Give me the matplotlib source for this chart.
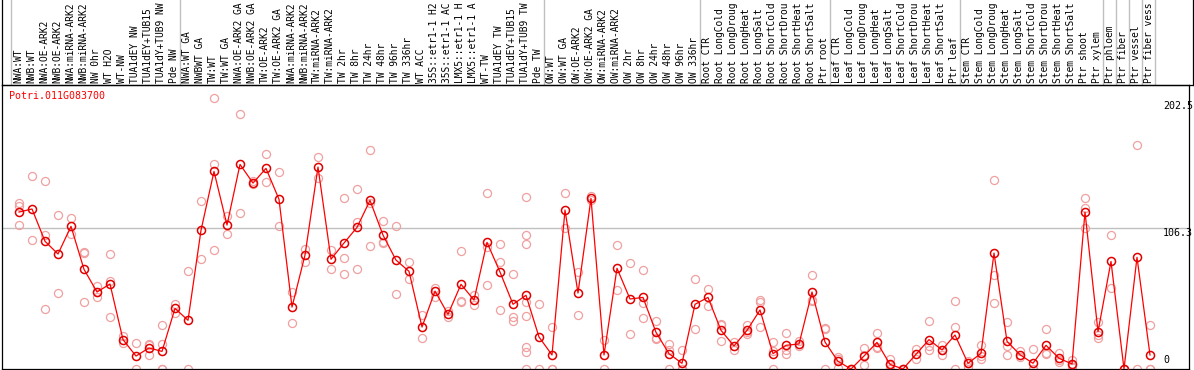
import matplotlib
matplotlib.use("Agg")
import matplotlib.pyplot as plt
from matplotlib.lines import Line2D
from matplotlib.transforms import blended_transform_factory

gene = "Potri.011G083700"

samples = [
    "NWA:WT", "NWB:WT", "NWA:OE-ARK2", "NWB:OE-ARK2", "NWA:miRNA-ARK2", "NWB:miRNA-ARK2",
    "NW 0hr", "WT H2O", "WT-NW", "TUA1dEY NW", "TUA1dEY+TUB15 NW", "TUA1dY+TUB9 NW", "Pde NW",
    "NWA:WT GA", "NWBWT GA", "TW:WT", "TW:WT GA", "NWA:OE-ARK2 GA", "NWB:OE-ARK2 GA",
    "TW:OE-ARK2", "TW:OE-ARK2 GA", "NWA:miRNA-ARK2 GA", "NWB:miRNA-ARK2 GA", "TW:miRNA-ARK2",
    "TW:miRNA-ARK2 GA", "TW 2hr", "TW 8hr", "TW 24hr", "TW 48hr", "TW 96hr", "TW 336hr",
    "WT ACC", "35S::etr1-1 H2O", "35S::etr1-1 ACC", "LMX5::etr1-1 H2O", "LMX5::etr1-1 ACC",
    "WT-TW", "TUA1dEY TW", "TUA1dEY+TUB15 TW", "TUA1dY+TUB9 TW", "Pde TW",
    "OW:WT", "OW:WT GA", "OW:OE-ARK2", "OW:OE-ARK2 GA", "OW:miRNA-ARK2", "OW:miRNA-ARK2 GA",
    "OW 2hr", "OW 8hr", "OW 24hr", "OW 48hr", "OW 96hr", "OW 336hr",
    "Root CTR", "Root LongCold", "Root LongDrought", "Root LongHeat", "Root LongSalt",
    "Root ShortCold", "Root ShortDrought", "Root ShortHeat", "Root ShortSalt", "Ptr root",
    "Leaf CTR", "Leaf LongCold", "Leaf LongDrought", "Leaf LongHeat", "Leaf LongSalt",
    "Leaf ShortCold", "Leaf ShortDrought", "Leaf ShortHeat", "Leaf ShortSalt", "Ptr leaf",
    "Stem CTR", "Stem LongCold", "Stem LongDrought", "Stem LongHeat", "Stem LongSalt",
    "Stem ShortCold", "Stem ShortDrought", "Stem ShortHeat", "Stem ShortSalt",
    "Ptr shoot", "Ptr xylem", "Ptr phloem", "Ptr fiber", "Ptr vessel", "Ptr fiber vessel",
]

means = [
    118.6, 120.9, 96.5, 86.9, 107.8, 75.3, 58.2, 64.2, 22.2, 9.8, 15.9, 13.3, 45.8,
    36.8, 104.8, 149.3, 108.8, 154.6, 140.5, 151.6, 128.2, 46.8, 86.1, 152.6, 82.9,
    95.2, 107.0, 127.4, 101.2, 82.3, 73.8, 31.7, 58.9, 41.3, 64.0, 52.1, 95.7, 73.3,
    48.9, 55.7, 24.2,
    10.6, 120.1, 57.4, 128.9, 10.6, 76.1, 52.9, 54.1, 27.7, 11.6, 4.3, 48.9,
    54.1, 29.2, 17.4, 29.2, 44.6, 11.6, 17.9, 18.9, 58.2, 20.4,
    5.8, 0.0, 9.8, 20.1, 3.5, 0.0, 11.1, 22.2, 14.4, 25.7,
    4.3, 11.8, 87.6, 20.9, 10.8, 4.3, 17.9, 8.1, 3.8, 118.6, 28.2, 81.3, 0.0, 84.4, 10.6,
]

replicates = [
    [125.4, 122.9, 108.8], [145.6, 97.2], [141.8, 101.2, 45.3], [116.1, 57.4],
    [113.8, 102.2], [88.4, 87.6, 50.6], [62.5, 58.2, 54.4], [86.9, 66.2, 39.3],
    [24.7, 19.6], [19.4, 0.0], [19.1, 17.9, 10.3], [33.0, 18.9, 0.0, 0.0],
    [49.4, 42.3], [73.8, 0.0], [126.7, 82.9], [204.5, 154.6, 89.7],
    [115.3, 102.0], [192.4, 117.6], [142.0, 139.8], [162.2, 141.0],
    [148.6, 108.0], [58.4, 34.5], [90.7, 80.8], [159.9, 144.3],
    [89.7, 75.3], [128.9, 83.6, 71.8], [135.7, 110.8, 75.3], [165.2, 125.2, 92.9],
    [111.6, 95.9, 95.2], [108.0, 56.7], [80.8, 67.7], [40.5, 23.2],
    [61.2, 54.4], [43.6, 39.0], [88.9, 51.1, 50.4], [56.2, 48.6],
    [132.7, 91.9, 63.5], [94.2, 80.8, 44.6], [71.5, 39.0, 36.5],
    [129.7, 101.2, 94.2, 50.4, 39.8, 16.6, 12.6, 0.0], [48.9, 0.0],
    [31.7, 0.0, 0.0], [132.7, 106.3], [73.3, 40.5], [130.4, 127.4],
    [21.7, 0.0], [93.4, 59.7], [79.8, 26.2], [75.0, 49.9, 38.5],
    [36.0, 23.4, 22.7], [19.1, 14.6, 0.0], [14.4, 0.0, 0.0], [67.7, 30.2],
    [60.4, 47.3], [34.2, 33.0, 20.9], [20.4, 14.1], [33.5, 27.7, 26.4],
    [52.1, 50.6, 31.5], [20.4, 13.3, 0.0], [27.2, 14.4, 11.1], [20.9, 17.1],
    [70.8, 52.4, 51.1], [31.0, 30.5, 0.0],
    [8.8, 7.8, 0.8], [0.0, 0.0, 0.0], [15.9, 10.8, 2.8], [27.2, 16.9, 15.9],
    [7.8, 3.3, 0.0], [0.0, 0.0, 0.0], [14.9, 7.8], [36.3, 17.6, 14.4],
    [18.1, 14.4, 10.8], [51.4, 31.7, 0.0],
    [6.3, 4.3, 1.8], [17.9, 9.6, 7.8], [142.5, 70.8, 49.6], [35.5, 17.6, 10.3],
    [13.6, 9.3], [14.9, 0.0, 0.0], [30.2, 12.1, 11.3], [11.8, 7.1, 5.3],
    [7.1, 2.8, 1.8], [128.9, 121.6, 106.3], [35.5, 25.9, 23.4], [101.2, 60.9],
    [0.0, 0.0], [169.0, 0.0], [33.0, 0.0, 0.0],
]

ytick_values = [0, 106.3, 202.5]
ytick_labels = ["0", "106.3", "202.5"]
group_last_index = [-1, 12, 40, 52, 62, 72, 83, 84, 85, 86, 87]
label_chars = 14  # the header strip only has room for 14 characters

# ---------------------------------------------------------------- layout
W, H = 1194, 370
FONT = "DejaVu Sans Mono"
FS = 7.2
LFS = 6.9
plt.rcParams["font.family"] = [FONT]

fig = plt.figure(figsize=(W / 100, H / 100), dpi=100)
ax_left, ax_right, ax_top, ax_bottom = 2, 1189, 85, 369
ax = fig.add_axes([ax_left / W, (H - ax_bottom) / H,
                   (ax_right - ax_left) / W, (ax_bottom - ax_top) / H])
n = len(samples)
# 13 px per sample, first sample at x=19 px
x_lo = (ax_left - 19) / 13.0
x_hi = (ax_right - 19) / 13.0
ax.set_xlim(x_lo, x_hi)
ymax = 214.6
ax.set_ylim(0, ymax)
ax.set_xticks([])
ax.set_yticks([])
for s in ax.spines.values():
    s.set_color("black")
    s.set_linewidth(0.9)

grey = "#c0c0c0"
# horizontal grid line
ax.axhline(106.3, color=grey, lw=1.0, zorder=0)

# group separators spanning the whole figure height
bt = blended_transform_factory(ax.transData, fig.transFigure)
for g in group_last_index:
    xs = g + 0.4
    fig.add_artist(Line2D([xs, xs], [0, 1], transform=bt, color=grey, lw=1.0, zorder=0))

# frame of the label area
fig.add_artist(Line2D([ax_left / W, ax_left / W], [(H - ax_top) / H, 1], transform=fig.transFigure,
                      color="black", lw=0.9))
fig.add_artist(Line2D([1193 / W, 1193 / W], [(H - ax_top) / H, 1], transform=fig.transFigure,
                      color="black", lw=0.9))
fig.add_artist(Line2D([ax_left / W, 1193 / W], [(H - ax_top) / H, (H - ax_top) / H],
                      transform=fig.transFigure, color="black", lw=0.9))

# replicate points
pink = "#f0a0a0"
xs_r, ys_r = [], []
for i, reps in enumerate(replicates):
    for v in reps:
        xs_r.append(i)
        ys_r.append(v)
ax.plot(xs_r, ys_r, linestyle="none", marker="o", ms=5.8, mfc="none", mec=pink,
        mew=0.9, clip_on=True, zorder=2)

# mean line
ax.plot(range(n), means, color="#ff0000", lw=0.9, marker="o", ms=5.8, mfc="none",
        mec="#e00000", mew=1.1, zorder=3)

# sample labels (rotated) above the plot
lab_y = (H - 83) / H
for i, s in enumerate(samples):
    fig.text(i - 0.08, lab_y, s[:label_chars], transform=bt, rotation=90,
             ha="center", va="bottom", fontsize=LFS, color="black")

# title
ax.text((9.5 - ax_left) / (ax_right - ax_left), (ax_bottom - 91) / (ax_bottom - ax_top),
        gene, transform=ax.transAxes, color="#ff0000", fontsize=FS, ha="left", va="top")

# y tick labels inside right side
tx = (1163 - ax_left) / (ax_right - ax_left)
tb = blended_transform_factory(ax.transAxes, ax.transData)
for v, t in zip(ytick_values, ytick_labels):
    if v == 0:
        ax.text(tx, 3.0, t, transform=tb, fontsize=FS, ha="left", va="bottom", color="black")
    else:
        ax.text(tx, v, t, transform=tb, fontsize=FS, ha="left", va="top", color="black")

fig.savefig("out.png", dpi=100)
